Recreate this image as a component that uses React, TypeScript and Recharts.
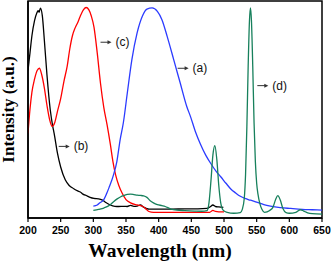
import { LineChart, Line, XAxis, YAxis, ReferenceArea, ReferenceDot, Label } from 'recharts';

// wavelength (nm) / intensity (a.u., 0-100 scale)
const blackNm = [200, 203, 206, 210, 213.5, 215.5, 217, 219, 222, 225, 229, 234, 238, 240, 245, 250, 257, 263, 270, 276, 280, 284, 288, 295, 301, 308, 314, 320, 326, 333, 339, 346, 352, 357, 362, 367, 372, 377, 381, 385, 400, 420, 440, 460, 474, 479, 483, 487, 492, 499];
const blackInt = [68, 76, 84, 91, 94.5, 95.5, 94.8, 96.7, 93, 82, 66, 50, 42, 39, 30, 23.5, 17.6, 15, 13.5, 12.5, 12, 11, 10.5, 9.5, 9, 8.8, 8.2, 7, 6, 5.4, 5.3, 5.4, 5.3, 5.8, 5.4, 5.5, 6, 5, 4.5, 4.1, 4.1, 4.1, 4.2, 4.2, 4.4, 5.2, 6, 5.3, 5.1, 4.9];

const redNm = [200, 203, 206, 210, 214, 217.5, 221, 225, 229, 233, 237, 241, 245, 250, 255, 260, 264, 268, 272, 276, 280, 285, 289, 293, 297, 301, 306, 311, 316, 321, 326, 330, 334, 339, 344, 350, 357, 367, 376, 381, 385, 392, 430, 478, 483, 487, 492, 500];
const redInt = [39, 50, 58, 64, 68, 69, 66, 60, 52, 45.5, 42.2, 44, 49, 55, 63, 70, 78, 84, 87.5, 90, 93, 96, 97, 96, 93, 88, 76, 62, 51, 43, 34, 26, 20, 15, 11.5, 8.5, 7, 6, 5.3, 4, 3, 2.6, 2.6, 2.6, 3.5, 3, 2.8, 2.8];

const blueNm = [300, 306, 310, 316, 320, 324, 331, 336, 341, 346, 352, 359, 367, 375, 382, 390, 398, 405, 413, 423, 433, 443, 449, 456, 464, 472, 480, 488, 495, 503, 510, 518, 525, 532, 538, 543, 551, 561, 571, 586, 602, 620, 635, 650];
const blueInt = [5.5, 6, 7, 8.5, 11, 14, 20, 26, 36, 44, 57.6, 73, 85.3, 93, 96.3, 96.8, 95.2, 91.4, 83.7, 73, 62.2, 51.4, 46.5, 40, 34, 29, 25, 21.5, 19, 16, 13.5, 11.5, 10, 9, 8.4, 8, 7.2, 6.2, 5.5, 4.8, 4.4, 4, 3.8, 3.6];

const greenNm = [300, 308, 316, 326, 331, 336.5, 342, 347, 352, 357, 362, 367, 372, 377, 382, 387, 392, 398, 405, 410, 418, 428, 440, 455, 466, 474, 477, 480, 483, 486, 489, 492, 495, 499, 505, 515, 525, 528, 531, 533, 535, 537, 539, 540.5, 542, 544, 546, 548, 550, 552, 555, 558, 562, 570, 575, 579, 582.4, 586, 590, 595, 600, 610, 617, 622, 628, 635, 650];
const greenInt = [3.5, 4, 4.6, 6.1, 7.5, 8.8, 9.8, 10.4, 10.9, 11, 10.8, 10.5, 10.4, 10.2, 9.5, 8, 7, 6.2, 5.7, 5.3, 4.2, 3.6, 3.4, 3.2, 3.1, 3.4, 7, 17, 29, 33.3, 27, 15, 7, 3.5, 2.6, 2.2, 2.5, 4, 9, 20, 42, 70, 91, 96.8, 91, 70, 44, 26, 16, 11, 6.5, 4, 2.6, 3.5, 5, 8.5, 10.3, 8.4, 4.5, 2.5, 2.2, 2.6, 3.8, 3.2, 2.4, 2, 1.8];

const xTicks = [200, 250, 300, 350, 400, 450, 500, 550, 600, 650];

// curve labels: arrow tail anchored at (nm, intensity)
const annotations = [
  { text: '(c)', nm: 311, v: 81 },
  { text: '(a)', nm: 429, v: 69 },
  { text: '(d)', nm: 551, v: 61 },
  { text: '(b)', nm: 247, v: 33 },
];

const toPoints = (nm: number[], v: number[]) => nm.map((x, i) => ({ nm: x, v: v[i] }));

const serif = '"Liberation Serif", "Times New Roman", serif';
const sans = '"Liberation Sans", Arial, sans-serif';

function ArrowLabel({ cx, cy, text }: any) {
  if (cx == null || cy == null) return null;
  return (
    <g>
      <line x1={cx} y1={cy} x2={cx + 8} y2={cy} stroke="#333" strokeWidth={1} />
      <polygon points={`${cx + 7},${cy - 2} ${cx + 11},${cy} ${cx + 7},${cy + 2}`} fill="#333" />
      <text x={cx + 15} y={cy + 4} fontSize={12} style={{ fontFamily: sans }} fill="#111">{text}</text>
    </g>
  );
}

export default function App() {
  return (
    <div style={{ position: 'absolute', left: 0, top: 0, background: '#fff' }}>
      <LineChart width={331} height={262} margin={{ top: 1, right: 9, bottom: 0, left: 0 }}>
        <XAxis
          dataKey="nm"
          type="number"
          domain={[200, 650]}
          ticks={xTicks}
          allowDataOverflow
          height={44}
          tickSize={4}
          tickMargin={5}
          axisLine={{ stroke: '#000', strokeWidth: 1.5 }}
          tickLine={{ stroke: '#000', strokeWidth: 1.2 }}
          tick={{ fill: '#000', fontSize: 10.5, fontWeight: 700, fontFamily: sans }}
        >
          <Label
            content={({ viewBox }: any) => (
              <text
                x={viewBox.x + viewBox.width / 2 - 15}
                y={257}
                textAnchor="middle"
                fontSize={19.5}
                fontWeight={700}
                style={{ fontFamily: serif }}
                fill="#000"
              >
                Wavelength (nm)
              </text>
            )}
          />
        </XAxis>
        <YAxis
          type="number"
          domain={[0, 100]}
          width={28}
          tick={false}
          tickLine={false}
          axisLine={{ stroke: '#000', strokeWidth: 1.5 }}
        >
          <Label
            content={({ viewBox }: any) => {
              const cy = viewBox.y + viewBox.height / 2;
              return (
                <text
                  x={14}
                  y={cy}
                  transform={`rotate(-90 14 ${cy})`}
                  textAnchor="middle"
                  fontSize={17}
                  fontWeight={700}
                  style={{ fontFamily: serif }}
                  fill="#000"
                >
                  Intensity (a.u.)
                </text>
              );
            }}
          />
        </YAxis>
        <ReferenceArea x1={200} x2={650} y1={0} y2={100} fill="none" stroke="#000" strokeWidth={1.5} />
        <Line data={toPoints(blackNm, blackInt)} dataKey="v" type="monotone" stroke="#000" strokeWidth={1.3} dot={false} isAnimationActive={false} />
        <Line data={toPoints(redNm, redInt)} dataKey="v" type="monotone" stroke="#ff0000" strokeWidth={1.3} dot={false} isAnimationActive={false} />
        <Line data={toPoints(blueNm, blueInt)} dataKey="v" type="monotone" stroke="#2b3bff" strokeWidth={1.3} dot={false} isAnimationActive={false} />
        <Line data={toPoints(greenNm, greenInt)} dataKey="v" type="monotone" stroke="#17805c" strokeWidth={1.3} dot={false} isAnimationActive={false} />
        {annotations.map((a) => (
          <ReferenceDot
            key={a.text}
            x={a.nm}
            y={a.v}
            r={0}
            shape={(p: any) => <ArrowLabel cx={p.cx} cy={p.cy} text={a.text} />}
          />
        ))}
      </LineChart>
    </div>
  );
}
